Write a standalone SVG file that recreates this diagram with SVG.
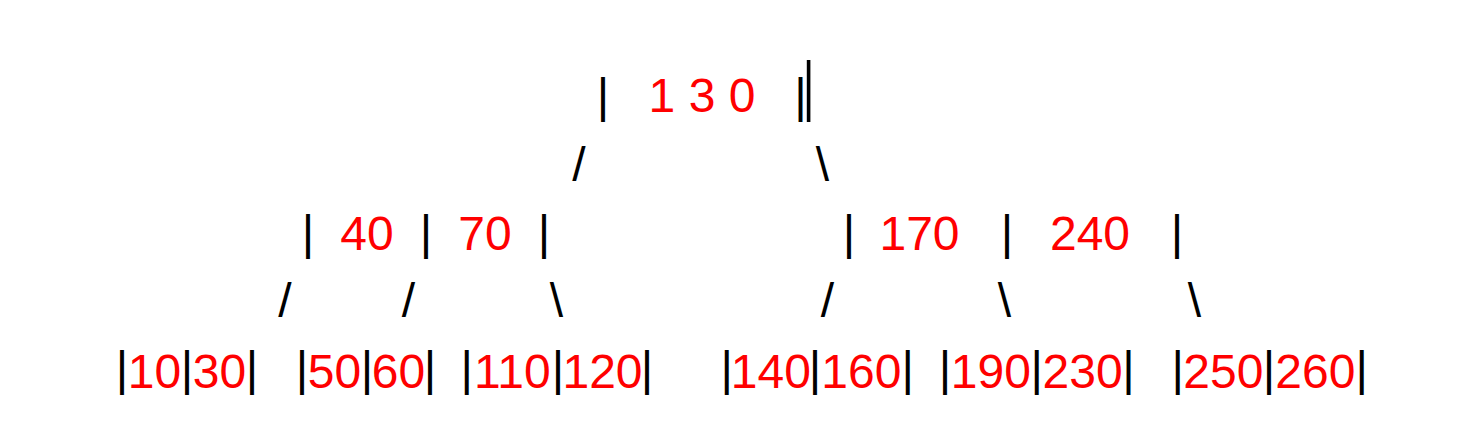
<svg xmlns="http://www.w3.org/2000/svg" width="1474" height="434" viewBox="0 0 1474 434">
<style>
text { font-family: "Liberation Sans", Arial, sans-serif; font-size: 48px; text-anchor: middle; }
.num { fill: #ff0000; }
.bar { fill: #000000; }
.edge { fill: #000000; }
</style>
<rect width="1474" height="434" fill="#ffffff"/>
<g id="node-root">
  <text class="bar" x="603" y="112">|</text>
  <text class="num" x="702" y="112">1 3 0</text>
  <text class="bar" x="800.5" y="112">|</text>
  <rect x="806.8" y="60" width="3.6" height="62" fill="#000000"/>
</g>
<g id="node-40-70">
  <text class="bar" x="308" y="249">|</text>
  <text class="num" x="367" y="250">40</text>
  <text class="bar" x="426" y="249">|</text>
  <text class="num" x="485" y="250">70</text>
  <text class="bar" x="544" y="249">|</text>
</g>
<g id="node-170-240">
  <text class="bar" x="849" y="249">|</text>
  <text class="num" x="919.5" y="250">170</text>
  <text class="bar" x="1007" y="249">|</text>
  <text class="num" x="1090" y="250">240</text>
  <text class="bar" x="1177" y="249">|</text>
</g>
<g id="leaf-10-30">
  <text class="bar" x="122" y="385">|</text>
  <text class="num" x="154.5" y="388">10</text>
  <text class="bar" x="187" y="385">|</text>
  <text class="num" x="219.5" y="388">30</text>
  <text class="bar" x="252" y="385">|</text>
</g>
<g id="leaf-50-60">
  <text class="bar" x="302" y="385">|</text>
  <text class="num" x="334.5" y="388">50</text>
  <text class="bar" x="367" y="385">|</text>
  <text class="num" x="398.5" y="388">60</text>
  <text class="bar" x="430" y="385">|</text>
</g>
<g id="leaf-110-120">
  <text class="bar" x="466.7" y="385">|</text>
  <text class="num" x="512.35" y="388">110</text>
  <text class="bar" x="558" y="385">|</text>
  <text class="num" x="602.5" y="388">120</text>
  <text class="bar" x="647" y="385">|</text>
</g>
<g id="leaf-140-160">
  <text class="bar" x="726.7" y="385">|</text>
  <text class="num" x="770.85" y="388">140</text>
  <text class="bar" x="815" y="385">|</text>
  <text class="num" x="861.35" y="388">160</text>
  <text class="bar" x="907.7" y="385">|</text>
</g>
<g id="leaf-190-230">
  <text class="bar" x="945" y="385">|</text>
  <text class="num" x="990.85" y="388">190</text>
  <text class="bar" x="1036.7" y="385">|</text>
  <text class="num" x="1082.55" y="388">230</text>
  <text class="bar" x="1128.4" y="385">|</text>
</g>
<g id="leaf-250-260">
  <text class="bar" x="1177.7" y="385">|</text>
  <text class="num" x="1223.35" y="388">250</text>
  <text class="bar" x="1269" y="385">|</text>
  <text class="num" x="1315.35" y="388">260</text>
  <text class="bar" x="1361.7" y="385">|</text>
</g>
<g id="connectors">
  <text class="edge" x="579" y="180.5">/</text>
  <text class="edge" x="822.5" y="180.5">\</text>
  <text class="edge" x="285" y="317">/</text>
  <text class="edge" x="408.5" y="317">/</text>
  <text class="edge" x="556.5" y="317">\</text>
  <text class="edge" x="827.5" y="317">/</text>
  <text class="edge" x="1004.5" y="317">\</text>
  <text class="edge" x="1194.5" y="317">\</text>
</g>
</svg>
